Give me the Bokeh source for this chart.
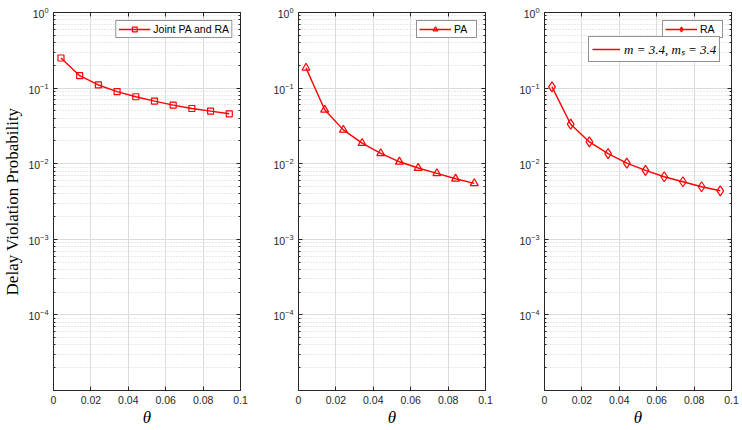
from bokeh.plotting import figure
from bokeh.layouts import row
from bokeh.models import (FixedTicker, Legend, LegendItem, LogAxis, LinearAxis,
                          CustomJSTickFormatter, Range1d)
from bokeh.embed import file_html
from bokeh.resources import INLINE

theta = [0.004, 0.014, 0.024, 0.034, 0.044, 0.054, 0.064, 0.074, 0.084, 0.094]
joint = [0.25, 0.146, 0.110, 0.090, 0.0768, 0.0673, 0.0596, 0.0537, 0.0496, 0.0457]
pa = [0.185, 0.0516, 0.028, 0.0187, 0.0137, 0.0106, 0.00877, 0.00746, 0.00632, 0.0055]
ra = [0.104, 0.0333, 0.0194, 0.0136, 0.0102, 0.00817, 0.00672, 0.00577, 0.00495, 0.00438]

x_ticks = [0, 0.02, 0.04, 0.06, 0.08, 0.1]
y_ticks = [1e-4, 1e-3, 1e-2, 1e-1, 1]
y_minor = [m * 10.0 ** e for e in range(-5, 0) for m in range(2, 10)]

RED = "#ff0000"
AX = "#262626"
FW, FH = 187, 378


def style_axis(ax, show_labels=True):
    ax.axis_line_color = AX
    ax.major_tick_line_color = AX
    ax.minor_tick_line_color = AX
    ax.major_tick_in = 4
    ax.major_tick_out = 0
    ax.minor_tick_in = 2
    ax.minor_tick_out = 0
    ax.major_label_text_font = "Liberation Sans"
    ax.major_label_text_color = AX
    if show_labels:
        ax.major_label_text_font_size = "10.5px"
        ax.major_label_standoff = 5
    else:
        ax.major_label_text_font_size = "1px"
        ax.major_label_text_alpha = 0
        ax.major_label_standoff = 0


def make_fig(left, right, ys, label, marker, msize, ylabel=None):
    p = figure(frame_width=FW, frame_height=FH, x_range=Range1d(0, 0.1),
               y_range=Range1d(1e-5, 1), y_axis_type="log",
               output_backend="svg", toolbar_location=None,
               min_border_left=left, min_border_right=right,
               min_border_top=12, min_border_bottom=40,
               background_fill_color="white", border_fill_color="white")
    p.outline_line_color = AX
    p.outline_line_width = 1

    xt = FixedTicker(ticks=x_ticks)
    yt = FixedTicker(ticks=y_ticks, minor_ticks=y_minor)
    xfmt = CustomJSTickFormatter(code="return (Math.round(tick*100)/100).toString();")

    p.xaxis.ticker = xt
    p.xaxis.formatter = xfmt
    p.yaxis.ticker = yt
    style_axis(p.xaxis[0])
    style_axis(p.yaxis[0])
    p.xaxis.axis_label = "θ"
    p.xaxis.axis_label_text_font = "Liberation Serif"
    p.xaxis.axis_label_text_font_style = "italic"
    p.xaxis.axis_label_text_font_size = "17px"
    p.xaxis.axis_label_text_color = "black"
    p.xaxis.axis_label_standoff = 1
    if ylabel:
        p.yaxis.axis_label = ylabel
        p.yaxis.axis_label_text_font = "Liberation Serif"
        p.yaxis.axis_label_text_font_style = "normal"
        p.yaxis.axis_label_text_font_size = "17px"
        p.yaxis.axis_label_text_color = "black"
        p.yaxis.axis_label_standoff = 3

    top = LinearAxis(ticker=FixedTicker(ticks=x_ticks))
    style_axis(top, show_labels=False)
    p.add_layout(top, "above")
    rgt = LogAxis(ticker=FixedTicker(ticks=y_ticks, minor_ticks=y_minor))
    style_axis(rgt, show_labels=False)
    p.add_layout(rgt, "right")

    p.xgrid.ticker = xt
    p.ygrid.ticker = yt
    p.xgrid.grid_line_color = "#dcdcdc"
    p.ygrid.grid_line_color = "#dcdcdc"
    p.ygrid.minor_grid_line_color = "#d2d2d2"
    p.ygrid.minor_grid_line_dash = "1 2"

    ln = p.line(theta, ys, line_color=RED, line_width=1.4)
    sc = p.scatter(theta, ys, marker=marker, size=msize, line_color=RED,
                   line_width=1.2, fill_color=None)

    lg = Legend(items=[LegendItem(label=label, renderers=[ln, sc])],
                location="top_right", margin=8, padding=2, spacing=0,
                label_text_font="Liberation Sans", label_text_font_size="10.5px",
                label_text_color="black", label_height=12, glyph_height=12,
                glyph_width=32, label_standoff=3,
                border_line_color=AX, border_line_width=1,
                background_fill_color="white", background_fill_alpha=1)
    p.add_layout(lg)
    return p


p1 = make_fig(53, 8, joint, "Joint PA and RA", "square", 6, "Delay Violation Probability")
p2 = make_fig(50, 8, pa, "PA", "triangle", 8)
p3 = make_fig(51, 11, ra, "RA", "diamond", 10)

extra = p3.line([0.05, 0.05], [1e-6, 1e-6], line_color=RED, line_width=1.5)
lg2 = Legend(items=[LegendItem(label="m = 3.4, mₛ = 3.4", renderers=[extra])],
             location=(44, 328), padding=3, spacing=0,
             label_text_font="Liberation Serif", label_text_font_style="italic",
             label_text_font_size="13px", label_text_color="black",
             label_height=14, glyph_height=14, glyph_width=28, label_standoff=4,
             border_line_color=AX, border_line_width=1,
             background_fill_color="white", background_fill_alpha=1)
p3.add_layout(lg2)

layout = row(p1, p2, p3, spacing=0)
open("out.html", "w").write(file_html(layout, INLINE))
